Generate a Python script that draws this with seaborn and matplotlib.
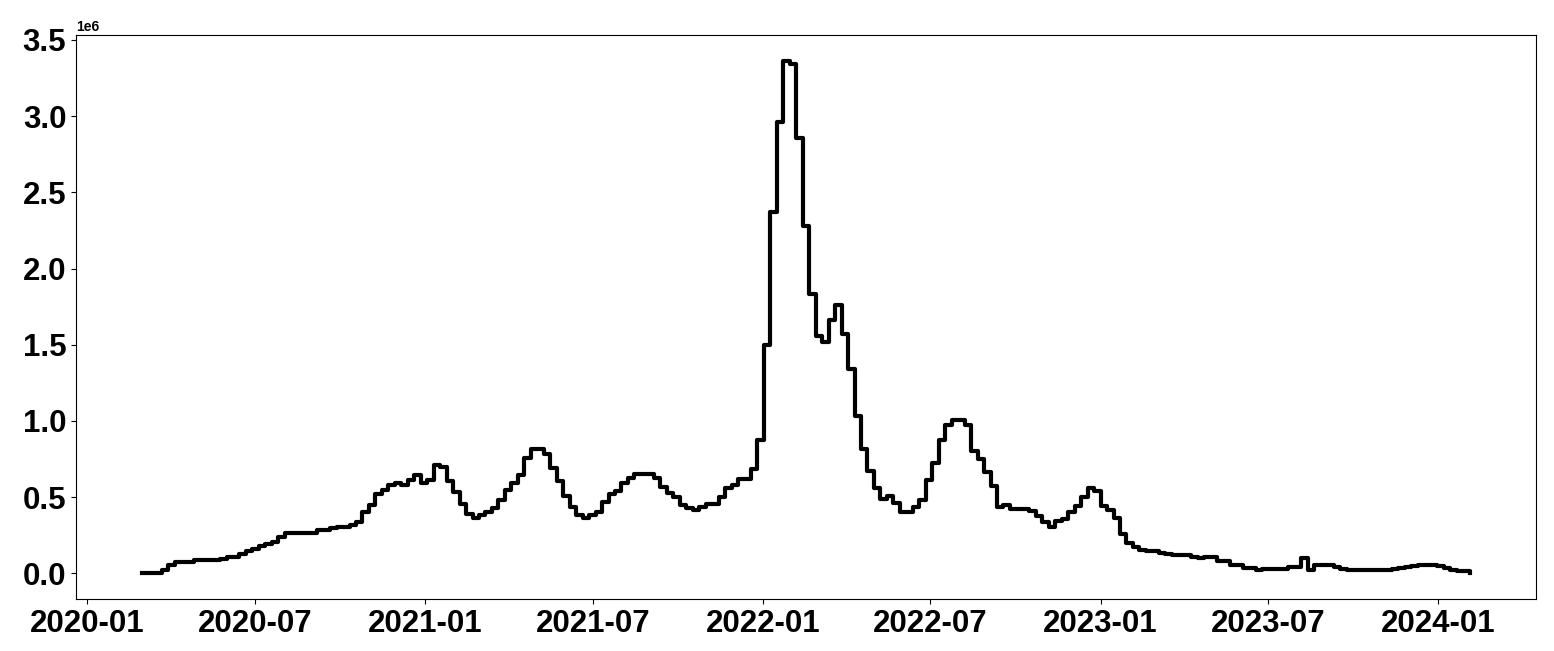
import numpy as np
import pandas as pd
import matplotlib
matplotlib.use("Agg")
import matplotlib.pyplot as plt
import matplotlib.dates as mdates
import seaborn as sns

start_date = "2020-03-01"
# weekly values, in millions
values_millions = [
    0.0, 0.0, 0.0, 0.02, 0.055, 0.077, 0.077, 0.077, 0.087, 0.087,
    0.087, 0.087, 0.095, 0.105, 0.105, 0.125, 0.146, 0.16, 0.177, 0.19,
    0.203, 0.24, 0.268, 0.268, 0.268, 0.265, 0.262, 0.284, 0.284, 0.295,
    0.306, 0.306, 0.32, 0.339, 0.40, 0.45, 0.52, 0.546, 0.579, 0.59,
    0.579, 0.61, 0.644, 0.594, 0.61, 0.714, 0.70, 0.605, 0.535, 0.452,
    0.389, 0.36, 0.382, 0.40, 0.43, 0.48, 0.546, 0.59, 0.644, 0.754,
    0.813, 0.813, 0.78, 0.693, 0.605, 0.509, 0.437, 0.382, 0.365, 0.382,
    0.40, 0.47, 0.518, 0.54, 0.596, 0.627, 0.655, 0.655, 0.655, 0.627,
    0.568, 0.524, 0.50, 0.448, 0.43, 0.415, 0.437, 0.452, 0.452, 0.50,
    0.557, 0.579, 0.62, 0.62, 0.683, 0.874, 1.496, 2.374, 2.96, 3.364,
    3.34, 2.855, 2.28, 1.835, 1.56, 1.52, 1.66, 1.758, 1.573, 1.339,
    1.033, 0.815, 0.67, 0.557, 0.491, 0.509, 0.459, 0.40, 0.40, 0.437,
    0.48, 0.611, 0.727, 0.874, 0.976, 1.005, 1.005, 0.976, 0.80, 0.749,
    0.662, 0.575, 0.437, 0.448, 0.42, 0.42, 0.42, 0.41, 0.378, 0.334,
    0.306, 0.343, 0.355, 0.404, 0.443, 0.50, 0.557, 0.54, 0.441, 0.415,
    0.36, 0.255, 0.197, 0.17, 0.153, 0.146, 0.146, 0.135, 0.125, 0.12,
    0.12, 0.12, 0.109, 0.098, 0.105, 0.105, 0.083, 0.083, 0.054, 0.054,
    0.037, 0.037, 0.022, 0.028, 0.028, 0.028, 0.028, 0.044, 0.044, 0.103,
    0.022, 0.054, 0.054, 0.054, 0.044, 0.03, 0.022, 0.022, 0.022, 0.022,
    0.022, 0.022, 0.025, 0.03, 0.037, 0.04, 0.045, 0.054, 0.054, 0.054,
    0.045, 0.033, 0.025, 0.018, 0.018, 0.003,
]

dates = pd.date_range(start_date, periods=len(values_millions), freq="7D")
df = pd.DataFrame({"date": dates, "value": np.array(values_millions) * 1e6})

plt.rcParams["font.family"] = ["Liberation Sans", "DejaVu Sans"]
plt.rcParams["font.weight"] = "bold"

fig = plt.figure(figsize=(15.54, 6.51), dpi=100)
ax = fig.add_axes([0.0489, 0.0799, 0.9395, 0.8663])

sns.lineplot(data=df, x="date", y="value", ax=ax, color="black",
             linewidth=3.0, drawstyle="steps-post")

ax.set_xlabel("")
ax.set_ylabel("")
ax.xaxis.set_major_locator(mdates.MonthLocator(bymonth=[1, 7]))
ax.xaxis.set_major_formatter(mdates.DateFormatter("%Y-%m"))
ax.set_yticks(np.arange(0, 3.51e6, 0.5e6))
ax.tick_params(axis="both", labelsize=22.5)
ax.yaxis.get_offset_text().set_fontsize(10)
ax.yaxis.get_offset_text().set_fontweight("bold")

fig.savefig("out.png", dpi=100)
